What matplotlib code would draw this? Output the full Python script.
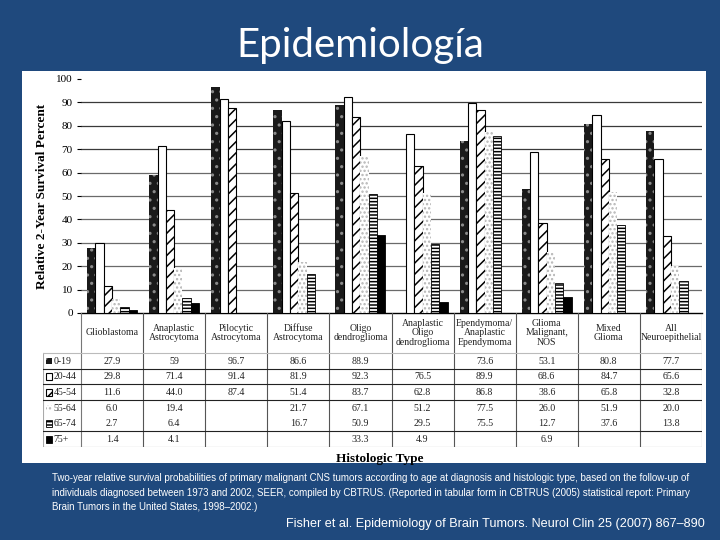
import numpy as np
import matplotlib.pyplot as plt
from matplotlib.patches import Rectangle

# values as printed in the table ('' = not reported)
categories = ['Glioblastoma', 'Anaplastic\nAstrocytoma', 'Pilocytic\nAstrocytoma',
              'Diffuse\nAstrocytoma', 'Oligo\ndendroglioma', 'Anaplastic\nOligo\ndendroglioma',
              'Ependymoma/\nAnaplastic\nEpendymoma', 'Glioma\nMalignant,\nNOS',
              'Mixed\nGlioma', 'All\nNeuroepithelial']
age_groups = ['0-19', '20-44', '45-54', '55-64', '65-74', '75+']
age_0_19 = ['27.9', '59', '96.7', '86.6', '88.9', '', '73.6', '53.1', '80.8', '77.7']
age_20_44 = ['29.8', '71.4', '91.4', '81.9', '92.3', '76.5', '89.9', '68.6', '84.7', '65.6']
age_45_54 = ['11.6', '44.0', '87.4', '51.4', '83.7', '62.8', '86.8', '38.6', '65.8', '32.8']
age_55_64 = ['6.0', '19.4', '', '21.7', '67.1', '51.2', '77.5', '26.0', '51.9', '20.0']
age_65_74 = ['2.7', '6.4', '', '16.7', '50.9', '29.5', '75.5', '12.7', '37.6', '13.8']
age_75_plus = ['1.4', '4.1', '', '', '33.3', '4.9', '', '6.9', '', '']
series = [age_0_19, age_20_44, age_45_54, age_55_64, age_65_74, age_75_plus]

caption = ["Two-year relative survival probabilities of primary malignant CNS tumors according to age at diagnosis and histologic type, based on the follow-up of",
           "individuals diagnosed between 1973 and 2002, SEER, compiled by CBTRUS. (Reported in tabular form in CBTRUS (2005) statistical report: Primary",
           "Brain Tumors in the United States, 1998\u20132002.)"]
citation = "Fisher et al. Epidemiology of Brain Tumors. Neurol Clin 25 (2007) 867\u2013890"

styles = [
    dict(facecolor='#1a1a1a', edgecolor='#8a8a8a', hatch='..', linewidth=0),
    dict(facecolor='white', edgecolor='black', linewidth=0.8),
    dict(facecolor='white', edgecolor='black', hatch='///', linewidth=0.8),
    dict(facecolor='white', edgecolor='#b5b5b5', hatch='....', linewidth=0),
    dict(facecolor='white', edgecolor='black', hatch='-----', linewidth=0.6),
    dict(facecolor='black', edgecolor='black', linewidth=0.6),
]

plt.rcParams['hatch.linewidth'] = 1.1
serif = 'Liberation Serif'
bg = '#1F497D'
W, H = 720, 540


def box(l, t, r, b):
    # pixel box -> figure fraction
    return [l / W, 1 - b / H, (r - l) / W, (b - t) / H]


fig = plt.figure(figsize=(7.2, 5.4), dpi=100, facecolor=bg)
renderer = fig.canvas.get_renderer()


def fit_text(t, width_px):
    # shrink/grow font so the text spans width_px
    w = t.get_window_extent(renderer).width
    t.set_fontsize(t.get_fontsize() * width_px / w)
    return t.get_fontsize()


# white image panel
panel = fig.add_axes(box(22, 71, 706, 463))
panel.set_facecolor('white')
panel.set_xticks([])
panel.set_yticks([])
for s in panel.spines.values():
    s.set_visible(False)

# bar chart
ax = fig.add_axes(box(81, 79, 702, 313))
ax.set_facecolor('none')
x = np.arange(len(categories))
bw = 0.134
for j, (vals, st) in enumerate(zip(series, styles)):
    h = [float(v) if v else np.nan for v in vals]
    ax.bar(x + 0.5 + (j - 2.5) * bw, h, width=bw, zorder=3, **st)
for g in range(10, 100, 10):
    ax.axhline(g, color='#3a3a3a' if g >= 70 else '#6a6a6a', lw=0.9, zorder=1)
ax.set_xlim(0, 10)
ax.set_ylim(0, 100)
ax.set_xticks([])
ax.set_yticks(range(0, 101, 10))
ax.tick_params(axis='y', length=3, width=0.8, labelsize=8, pad=3)
for lab in ax.get_yticklabels():
    lab.set_family(serif)
for s in ['top', 'right', 'left']:
    ax.spines[s].set_visible(False)
ax.spines['bottom'].set_linewidth(1.0)
ax.set_ylabel('Relative 2-Year Survival Percent', family=serif, fontweight='bold',
              fontsize=9.5, labelpad=6)

# table under the bars
tax = fig.add_axes(box(43, 313, 702, 447))
tax.set_facecolor('none')
lab_w = 38 / 62.1
hdr = 40 / 15.7
tax.set_xlim(-lab_w, 10)
tax.set_ylim(6, -hdr)
tax.axis('off')
for i in range(11):
    c = '#777777' if i in (0, 10) else '#555555'
    tax.plot([i, i], [-hdr, 6], color=c, lw=0.8)
tax.plot([-lab_w, -lab_w], [0, 6], color='#aaaaaa', lw=0.8)
tax.plot([-lab_w, 10], [0, 0], color='#bbbbbb', lw=0.8)
for r in [1, 2, 3, 5, 6]:
    tax.plot([-lab_w, 10], [r, r], color='#222222' if r < 6 else '#777777', lw=0.8)

for i, cat in enumerate(categories):
    tax.text(i + 0.5, -hdr / 2, cat, ha='center', va='center', family=serif,
             fontsize=7, linespacing=1.05, color='#222222')

for r, (name, vals, st) in enumerate(zip(age_groups, series, styles)):
    tax.add_patch(Rectangle((-lab_w + 0.05, r + 0.3), 0.1, 0.42, **st))
    tax.text(-lab_w + 0.17, r + 0.52, name, ha='left', va='center', family=serif,
             fontsize=7, color='#222222')
    for i, v in enumerate(vals):
        tax.text(i + 0.5, r + 0.52, v, ha='center', va='center', family=serif,
                 fontsize=7.2, color='#222222')

fig.text(380 / W, 1 - 459 / H, 'Histologic Type', ha='center', va='center',
         family=serif, fontweight='bold', fontsize=9.5)

# slide text
fig.text(0.5, 1 - 45 / H, 'Epidemiolog\u00eda', ha='center', va='center', color='white',
         fontsize=29, family=['Lato', 'DejaVu Sans'])
lines = [fig.text(52 / W, 1 - (478 + 14.5 * k) / H, line, ha='left', va='center',
                  color='white', fontsize=7.5, family='Liberation Sans')
         for k, line in enumerate(caption)]
fs = fit_text(lines[0], 636)
for t in lines[1:]:
    t.set_fontsize(fs)
cit = fig.text(705 / W, 1 - 524 / H, citation, ha='right', va='center', color='white',
               fontsize=10.5, family='Liberation Sans')
fit_text(cit, 420)

fig.savefig('out.png', dpi=100, facecolor=bg)
